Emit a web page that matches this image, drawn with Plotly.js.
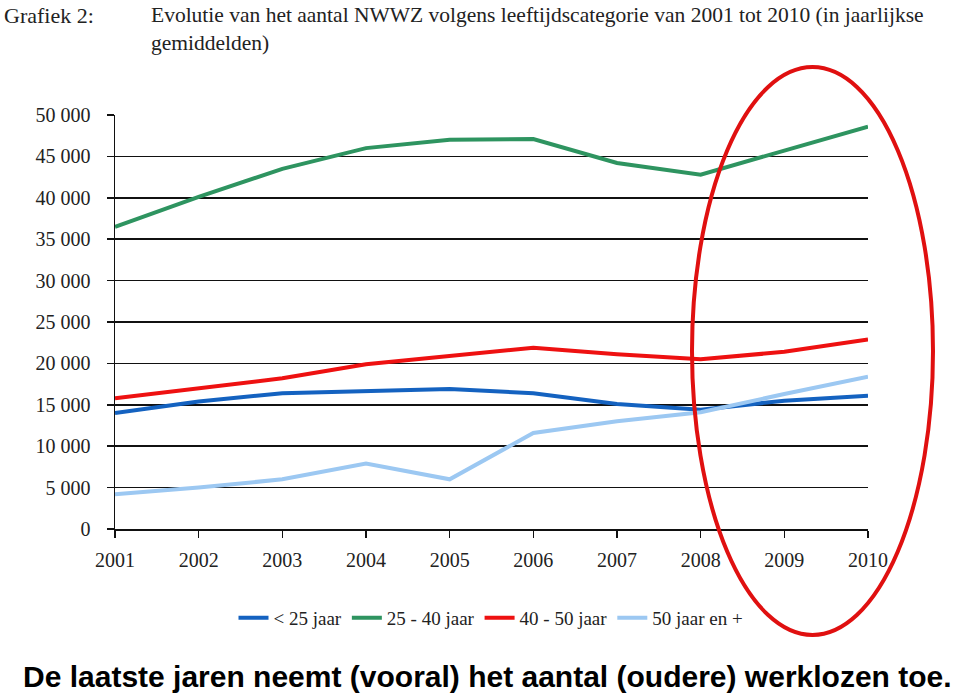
<!DOCTYPE html>
<html>
<head>
<meta charset="utf-8">
<script src="https://cdn.plot.ly/plotly-3.0.1.min.js"></script>
<style>
html,body{margin:0;padding:0;background:#fff;}
#chart{width:959px;height:695px;}
</style>
</head>
<body>
<div id="chart"></div>
<script>
const years = [2001, 2002, 2003, 2004, 2005, 2006, 2007, 2008, 2009, 2010];
const seriesNames = ["< 25 jaar", "25 - 40 jaar", "40 - 50 jaar", "50 jaar en +"];
const under25 = [14000, 15400, 16400, 16700, 16900, 16400, 15100, 14400, 15500, 16100];
const age25to40 = [36500, 40100, 43500, 46000, 47000, 47100, 44200, 42800, 45700, 48600];
const age40to50 = [15800, 17000, 18200, 19900, 20900, 21900, 21100, 20500, 21400, 22900];
const over50 = [4200, 5000, 6000, 7900, 6000, 11600, 13000, 14100, 16300, 18400];
const colors = ["#1462C0", "#2E9460", "#EE1111", "#9CC8F2"];
const yTicks = [0, 5000, 10000, 15000, 20000, 25000, 30000, 35000, 40000, 45000, 50000];

const allSeries = [under25, age25to40, age40to50, over50];
const traces = allSeries.map((vals, i) => ({
  x: years,
  y: vals,
  type: "scatter",
  mode: "lines",
  name: seriesNames[i],
  line: {color: colors[i], width: 4},
  cliponaxis: false
}));

const serif = "Liberation Serif, Times New Roman, serif";

const layout = {
  width: 959,
  height: 695,
  paper_bgcolor: "#ffffff",
  plot_bgcolor: "#ffffff",
  margin: {l: 115, r: 91, t: 115, b: 166},
  separators: ", ",
  showlegend: true,
  legend: {
    orientation: "h",
    x: (491-115)/753, xanchor: "center",
    y: -(618-529)/414, yanchor: "middle",
    font: {family: serif, size: 19, color: "#222"},
    itemwidth: 30,
    tracegroupgap: 0,
    traceorder: "normal"
  },
  xaxis: {
    range: [2001, 2010],
    tickvals: years,
    ticktext: years.map(String),
    showgrid: false,
    zeroline: false,
    showline: true,
    linecolor: "#111",
    linewidth: 1.5,
    ticks: "outside",
    ticklen: 7,
    tickwidth: 1.5,
    tickcolor: "#111",
    ticklabelstandoff: 5,
    tickfont: {family: serif, size: 20, color: "#222"},
    fixedrange: true
  },
  yaxis: {
    range: [0, 50000],
    tickvals: yTicks,
    tickformat: ",d",
    showgrid: true,
    gridcolor: "#111",
    gridwidth: 1.5,
    zeroline: false,
    showline: true,
    linecolor: "#111",
    linewidth: 1.5,
    ticks: "outside",
    ticklen: 7,
    tickwidth: 1.5,
    tickcolor: "#111",
    ticklabelstandoff: 12,
    tickfont: {family: serif, size: 20, color: "#222"},
    fixedrange: true
  },
  annotations: [
    {
      xref: "paper", yref: "paper", x: -113/753, y: 1 + 114/414,
      xanchor: "left", yanchor: "top", showarrow: false, align: "left",
      text: "Grafiek 2:",
      font: {family: serif, size: 22, color: "#222"}
    },
    {
      xref: "paper", yref: "paper", x: (149-115)/753, y: 1 + 114/414,
      xanchor: "left", yanchor: "top", showarrow: false, align: "left",
      text: "Evolutie van het aantal NWWZ volgens leeftijdscategorie van 2001 tot 2010 (in jaarlijkse<br>gemiddelden)",
      font: {family: serif, size: 21.5, color: "#222"}
    },
    {
      xref: "paper", yref: "paper", x: (487-115)/753, y: -(676-529)/414,
      xanchor: "center", yanchor: "middle", showarrow: false,
      text: "<b>De laatste jaren neemt (vooral) het aantal (oudere) werklozen toe.</b>",
      font: {family: "Liberation Sans, Arial, sans-serif", size: 30, color: "#000"}
    }
  ],
  shapes: [
    {
      type: "circle", xref: "paper", yref: "paper",
      x0: (692-115)/753, x1: (933-115)/753,
      y0: (529-635)/414, y1: (529-67)/414,
      line: {color: "#E01010", width: 4},
      layer: "above"
    }
  ]
};

Plotly.newPlot("chart", traces, layout, {displayModeBar: false, staticPlot: true});
</script>
</body>
</html>
